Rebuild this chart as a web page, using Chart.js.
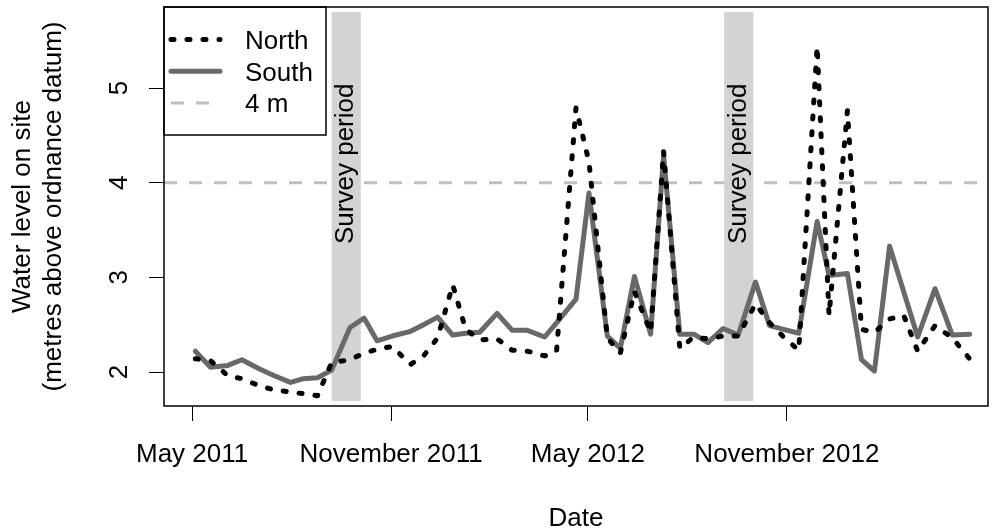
<!DOCTYPE html>
<html>
<head>
<meta charset="utf-8">
<title>Water level on site</title>
<script src="https://cdn.jsdelivr.net/npm/chart.js@4/dist/chart.umd.min.js"></script>
<style>
  html, body { margin: 0; padding: 0; background: #fff; }
  #wrap { width: 992px; height: 532px; position: relative; }
</style>
</head>
<body>
<div id="wrap"><canvas id="chart"></canvas></div>
<script>
// Sampling dates (roughly fortnightly readings)
const sampleDates = [
  '2011-05-04','2011-05-18','2011-06-03','2011-06-16','2011-07-01','2011-07-16','2011-07-31',
  '2011-08-12','2011-08-25','2011-09-07','2011-09-24','2011-10-07','2011-10-19','2011-11-02',
  '2011-11-19','2011-12-01','2011-12-14','2011-12-28','2012-01-09','2012-01-22','2012-02-07',
  '2012-02-21','2012-03-06','2012-03-22','2012-04-02','2012-04-20','2012-05-02','2012-05-19',
  '2012-05-31','2012-06-13','2012-06-28','2012-07-10','2012-07-25','2012-08-07','2012-08-20',
  '2012-09-03','2012-09-17','2012-10-03','2012-10-16','2012-10-29','2012-11-12','2012-11-29',
  '2012-12-10','2012-12-27','2013-01-09','2013-01-21','2013-02-04','2013-02-17','2013-03-02',
  '2013-03-18','2013-04-03','2013-04-19'
];

// Water level, metres above ordnance datum
const northLevel = [
  2.14, 2.12, 1.96, 1.93, 1.86, 1.81, 1.79, 1.77, 1.75, 2.10, 2.13, 2.20, 2.24, 2.27,
  2.08, 2.17, 2.36, 2.92, 2.45, 2.34, 2.35, 2.23, 2.22, 2.17, 2.22, 4.79, 4.22, 2.36,
  2.20, 2.85, 2.42, 4.33, 2.25, 2.37, 2.35, 2.38, 2.38, 2.72, 2.52, 2.37, 2.23, 5.44,
  2.60, 4.76, 2.45, 2.42, 2.56, 2.60, 2.22, 2.49, 2.36, 2.14
];
const southLevel = [
  2.22, 2.05, 2.07, 2.13, 2.04, 1.96, 1.89, 1.93, 1.94, 2.02, 2.47, 2.57, 2.33, 2.38,
  2.43, 2.50, 2.58, 2.39, 2.41, 2.42, 2.62, 2.44, 2.44, 2.37, 2.52, 2.77, 3.89, 2.38,
  2.25, 3.01, 2.40, 4.29, 2.40, 2.40, 2.31, 2.46, 2.39, 2.95, 2.49, 2.45, 2.41, 3.59,
  3.02, 3.04, 2.13, 2.01, 3.33, 2.85, 2.37, 2.88, 2.39, 2.40
];

const referenceLevel = 4;          // "4 m" guide line
const surveyPeriods = [
  ['2011-09-07', '2011-10-04'],
  ['2012-09-04', '2012-10-01']
];

const xTickDates  = ['2011-05-01', '2011-11-01', '2012-05-01', '2012-11-01'];
const xTickLabels = ['May 2011', 'November 2011', 'May 2012', 'November 2012'];
const yTickValues = [2, 3, 4, 5];
const xLimits = ['2011-04-05', '2013-05-06'];
const yLimits = [1.641, 5.856];

const FONT = '"Liberation Sans", Arial, Helvetica, sans-serif';
const DAY_MS = 86400000;
const toDay = s => Date.parse(s + 'T00:00:00Z') / DAY_MS;

Chart.defaults.font.family = FONT;
Chart.defaults.color = '#000';

const xMin = toDay(xLimits[0]);
const xMax = toDay(xLimits[1]);

const series = (vals) => sampleDates.map((d, i) => ({ x: toDay(d), y: vals[i] }));

// Extra drawing: survey bands, plot frame, legend and rotated y tick labels
const decor = {
  id: 'decor',
  beforeDatasetDraw(chart, args) {
    if (args.index !== 1) return;   // just before the South series is drawn
    const { ctx, chartArea: a, scales: { x, y } } = chart;
    ctx.save();
    surveyPeriods.forEach(([s, e]) => {
      const x0 = x.getPixelForValue(toDay(s));
      const x1 = x.getPixelForValue(toDay(e));
      ctx.fillStyle = '#d3d3d3';
      ctx.fillRect(x0, a.top + 5, x1 - x0, a.bottom - a.top - 10);
      ctx.save();
      ctx.translate((x0 + x1) / 2 + 7, y.getPixelForValue(4.2));
      ctx.rotate(-Math.PI / 2);
      ctx.fillStyle = '#000';
      ctx.font = '26px ' + FONT;
      ctx.textAlign = 'center';
      ctx.textBaseline = 'alphabetic';
      ctx.fillText('Survey period', 0, 0);
      ctx.restore();
    });
    ctx.restore();
  },
  afterDatasetsDraw(chart) {
    const { ctx, chartArea: a, scales: { y } } = chart;
    ctx.save();

    // legend
    const lx = a.left, ly = a.top, lw = 162, lh = 128;
    ctx.fillStyle = '#fff';
    ctx.fillRect(lx, ly, lw, lh);
    ctx.strokeStyle = '#000';
    ctx.lineWidth = 1.5;
    ctx.strokeRect(lx, ly, lw, lh);
    chart.data.datasets.forEach((ds, i) => {
      const cy = ly + 32.5 + i * 31.7;
      ctx.save();
      ctx.beginPath();
      ctx.strokeStyle = ds.borderColor;
      ctx.lineWidth = ds.borderWidth;
      ctx.setLineDash(ds.borderDash || []);
      ctx.lineCap = ds.borderCapStyle || 'butt';
      ctx.moveTo(lx + 7, cy);
      ctx.lineTo(lx + 56, cy);
      ctx.stroke();
      ctx.restore();
      ctx.fillStyle = '#000';
      ctx.font = '26px ' + FONT;
      ctx.textAlign = 'left';
      ctx.textBaseline = 'alphabetic';
      ctx.fillText(ds.label, lx + 81, cy + 9.5);
    });

    // plot frame
    ctx.strokeStyle = '#000';
    ctx.lineWidth = 1.5;
    ctx.strokeRect(a.left, a.top, a.right - a.left, a.bottom - a.top);

    // y tick labels, parallel to the axis
    ctx.fillStyle = '#000';
    ctx.font = '26px ' + FONT;
    ctx.textAlign = 'center';
    ctx.textBaseline = 'alphabetic';
    yTickValues.forEach(v => {
      ctx.save();
      ctx.translate(127, y.getPixelForValue(v));
      ctx.rotate(-Math.PI / 2);
      ctx.fillText(String(v), 0, 0);
      ctx.restore();
    });
    ctx.restore();
  }
};

new Chart(document.getElementById('chart'), {
  type: 'line',
  data: {
    datasets: [
      {
        label: 'North',
        data: series(northLevel),
        borderColor: '#000',
        borderWidth: 5,
        borderDash: [3, 13],
        borderCapStyle: 'round',
        borderJoinStyle: 'round',
        pointRadius: 0,
        tension: 0,
        fill: false
      },
      {
        label: 'South',
        data: series(southLevel),
        borderColor: '#696969',
        borderWidth: 5,
        borderCapStyle: 'round',
        borderJoinStyle: 'round',
        pointRadius: 0,
        tension: 0,
        fill: false
      },
      {
        label: '4 m',
        data: [{ x: xMin, y: referenceLevel }, { x: xMax, y: referenceLevel }],
        borderColor: '#c0c0c0',
        borderWidth: 3,
        borderDash: [13, 12],
        pointRadius: 0,
        fill: false
      }
    ]
  },
  options: {
    responsive: true,
    maintainAspectRatio: false,
    animation: false,
    events: [],
    layout: { padding: { top: 7, right: 4, left: 0, bottom: 0 } },
    plugins: {
      legend: { display: false },
      tooltip: { enabled: false },
      title: { display: false }
    },
    scales: {
      x: {
        type: 'linear',
        min: xMin,
        max: xMax,
        afterBuildTicks: s => { s.ticks = xTickDates.map(d => ({ value: toDay(d) })); },
        afterFit: s => { s.height = 126; },
        border: { display: false },
        grid: { drawOnChartArea: false, drawTicks: true, tickLength: 15, color: '#000', lineWidth: 1 },
        ticks: {
          autoSkip: false,
          maxRotation: 0,
          minRotation: 0,
          padding: 18,
          color: '#000',
          font: { size: 26 },
          callback: v => xTickLabels[xTickDates.map(toDay).indexOf(v)]
        },
        title: {
          display: true,
          text: 'Date',
          color: '#000',
          font: { size: 26, lineHeight: 1.0 },
          padding: { top: 0, bottom: 0 }
        }
      },
      y: {
        type: 'linear',
        min: yLimits[0],
        max: yLimits[1],
        afterBuildTicks: s => { s.ticks = yTickValues.map(v => ({ value: v })); },
        afterFit: s => { s.width = 164; },
        border: { display: false },
        grid: { drawOnChartArea: false, drawTicks: true, tickLength: 15, color: '#000', lineWidth: 1 },
        ticks: { display: false },
        title: {
          display: true,
          text: ['Water level on site', '(metres above ordnance datum)'],
          color: '#000',
          font: { size: 26, lineHeight: 1.2 },
          padding: { top: 7, bottom: 0 }
        }
      }
    }
  },
  plugins: [decor]
});
</script>
</body>
</html>
